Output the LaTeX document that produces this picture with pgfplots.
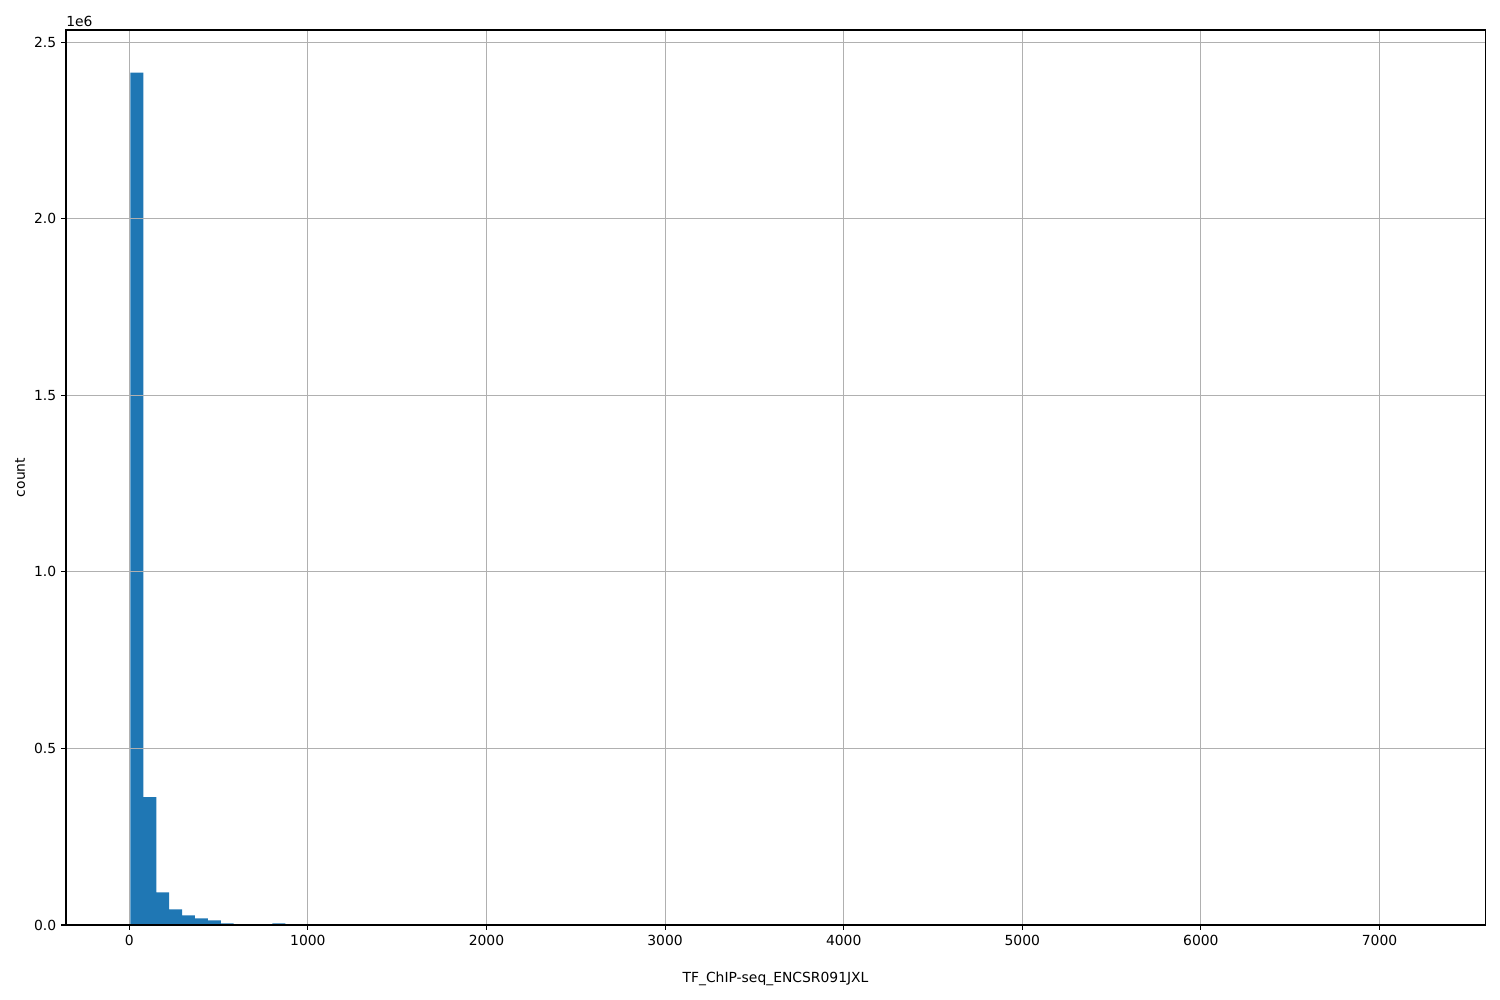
\documentclass[border=0pt]{standalone}
\usepackage{fontspec}
\setmainfont{DejaVu Sans}
\usepackage{pgfplots}
\pgfplotsset{compat=1.18}
\definecolor{barblue}{HTML}{1F77B4}
\definecolor{gridgray}{HTML}{B0B0B0}
\begin{document}
\fontsize{10}{12}\selectfont
\begin{tikzpicture}
\useasboundingbox (-47.52pt,-54pt) rectangle (1032.48pt,666pt);
\begin{axis}[
  name=ax,
  at={(0pt,0pt)}, anchor=south west,
  scale only axis, width=1021.7pt, height=644.4pt,
  xmin=-354, xmax=7591, ymin=0, ymax=2.535,
  axis on top,
  xtick={0,1000,...,7000},
  ytick={0,0.5,1.0,1.5,2.0,2.5},
  yticklabels={0.0,0.5,1.0,1.5,2.0,2.5},
  scaled x ticks=false,
  xticklabel style={/pgf/number format/.cd,1000 sep={},assume math mode=true},
  /pgf/number format/assume math mode=true,
  tick align=outside, tick pos=left,
  major tick length=3.5pt,
  every tick/.style={black, line width=0.8pt},
  axis line style={line width=0.8pt},
  grid=major,
  major grid style={gridgray, line width=0.8pt},
  xlabel={TF\_ChIP-seq\_ENCSR091JXL},
  ylabel={count},
  xlabel style={at={(axis description cs:0.5,0)}, anchor=north, yshift=-30pt},
  ylabel style={at={(axis description cs:0,0.5)}, anchor=south, yshift=26pt},
  tick label style={font=\fontsize{10}{12}\selectfont},
  label style={font=\fontsize{10}{12}\selectfont},
]
\addplot[ybar interval, fill=barblue, draw=none] coordinates {
(7.0,2.414)
(79.2,0.362)
(151.4,0.0926)
(223.7,0.0445)
(295.9,0.0275)
(368.1,0.0190)
(440.3,0.0133)
(512.6,0.0048)
(584.8,0.0025)
(657.0,0.0025)
(729.2,0.0003)
(801.5,0.0048)
(873.7,0.0020)
(945.9,0.0020)
(1018.1,0.0020)
};
\end{axis}
\node[anchor=south west, inner sep=0pt] at ([yshift=2pt]ax.north west) {1e6};
\end{tikzpicture}
\end{document}
